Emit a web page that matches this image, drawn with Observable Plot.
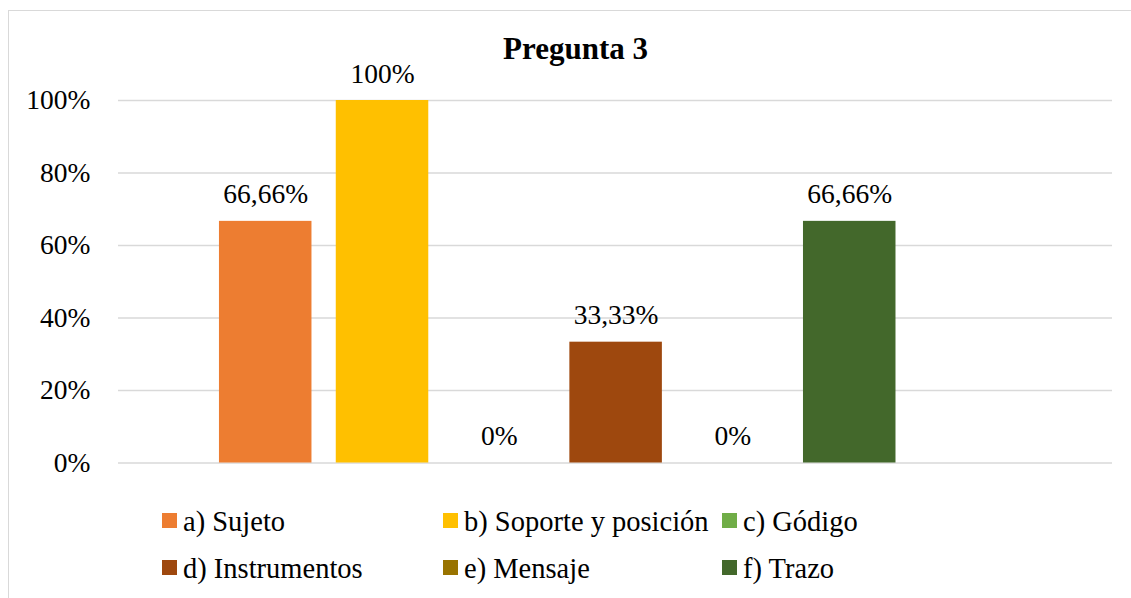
<!DOCTYPE html>
<html>
<head>
<meta charset="utf-8">
<script src="https://cdn.jsdelivr.net/npm/d3@7"></script>
<script src="https://cdn.jsdelivr.net/npm/@observablehq/plot@0.6"></script>
<style>
  html, body { margin: 0; padding: 0; background: #fff; }
  #wrap { position: relative; width: 1131px; height: 598px; overflow: hidden; font-family: "Liberation Serif", Tinos, "Times New Roman", Times, "DejaVu Serif", serif; }
  #border { position: absolute; left: 7.5px; top: 9.5px; width: 1140px; height: 600px; border: 1px solid #d9d9d9; box-sizing: border-box; }
  #title { position: absolute; left: 0; width: 1151px; top: 33px; line-height: 1; text-align: center; font-weight: bold; font-size: 31px; color: #000; }
  .leg { position: absolute; font-size: 28.5px; color: #000; white-space: nowrap; line-height: 1; }
  .sw { display: inline-block; width: 15px; height: 15px; margin-right: 6px; vertical-align: 3px; }
  #chart { position: absolute; left: 0; top: 0; }
</style>
</head>
<body>
<div id="wrap">
  <div id="border"></div>
  <div id="chart"></div>
  <div id="title"></div>
</div>
<script>
const title = "Pregunta 3";
const categories = ["a) Sujeto", "b) Soporte y posición", "c) Gódigo", "d) Instrumentos", "e) Mensaje", "f) Trazo"];
const values = [66.66, 100, 0, 33.33, 0, 66.66];
const colors = ["#ED7D31", "#FFC000", "#70AD47", "#9E480E", "#997300", "#43682B"];
const yTicks = [0, 20, 40, 60, 80, 100];

const data = categories.map((c, i) => ({category: c, value: values[i]}));
const fmt = v => String(v).replace(".", ",") + "%";
const serif = "'Liberation Serif', Tinos, 'Times New Roman', Times, 'DejaVu Serif', serif";

const chart = Plot.plot({
  width: 1131,
  height: 598,
  marginLeft: 118,
  marginRight: 19,
  marginTop: 100,
  marginBottom: 135.5,
  style: { fontFamily: serif, fontSize: "27.5px", background: "transparent", color: "#000" },
  x: { domain: categories, round: false, paddingInner: 0.208, paddingOuter: 1.359, align: 0.318, axis: null },
  y: { domain: [0, 100], ticks: yTicks, tickFormat: d => d + "%", tickSize: 0, tickPadding: 28, label: null },
  color: { domain: categories, range: colors },
  marks: [
    Plot.ruleY(yTicks, { stroke: "#d9d9d9", strokeWidth: 1.5 }),
    Plot.barY(data, { x: "category", y: "value", fill: "category" }),
    Plot.text(data, { x: "category", y: "value", text: d => fmt(d.value), lineAnchor: "bottom", dy: -18, fill: "#000", fontSize: 27.5 })
  ]
});
document.getElementById("chart").appendChild(chart);
document.getElementById("title").textContent = title;

// legend (positions of the three columns / two rows)
const legCols = [162, 443, 722];
const legRows = [508, 555];
const wrap = document.getElementById("wrap");
categories.forEach((c, i) => {
  const el = document.createElement("div");
  el.className = "leg";
  el.style.left = legCols[i % 3] + "px";
  el.style.top = legRows[Math.floor(i / 3)] + "px";
  const sw = document.createElement("span");
  sw.className = "sw";
  sw.style.background = colors[i];
  el.appendChild(sw);
  el.appendChild(document.createTextNode(c));
  wrap.appendChild(el);
});
</script>
</body>
</html>
